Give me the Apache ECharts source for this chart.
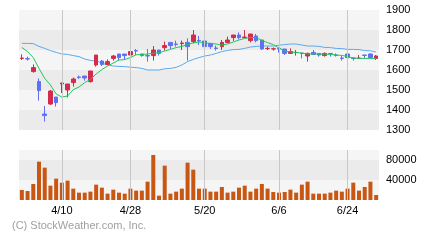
<!DOCTYPE html>
<html><head><meta charset="utf-8">
<script src="https://cdn.jsdelivr.net/npm/echarts@6/dist/echarts.min.js"></script>
<style>html,body{margin:0;padding:0;background:#fff}#c{width:440px;height:240px}</style>
</head><body><div id="c"></div>
<script>
const dates = ['4/1','4/2','4/3','4/4','4/7','4/8','4/9','4/10','4/11','4/14','4/15','4/16','4/17','4/18','4/21','4/22','4/23','4/24','4/25','4/28',
'4/30','5/1','5/2','5/7','5/8','5/9','5/12','5/13','5/14','5/15','5/16','5/19','5/20','5/21','5/22','5/23','5/26','5/27','5/28','5/29','5/30',
'6/2','6/3','6/4','6/5','6/6','6/9','6/10','6/11','6/12','6/13','6/16','6/17','6/18','6/19','6/20','6/23','6/24','6/25','6/26','6/27','6/30','7/1'];
const tickLabels = ['4/10','4/28','5/20','6/6','6/24'];
const opens  = [1658,1657,1592,1542,1380,1430,1465,1530,1500,1537,1565,1570,1542,1625,1645,1628,1658,1680,1680,1675,1697,1680,1672,1672,1700,1712,1738,1730,1732,1738,1742,1748,1745,1733,1710,1717,1738,1762,1775,1762,1747,1770,1750,1707,1705,1708,1705,1683,1687,1685,1670,1688,1683,1672,1683,1675,1660,1680,1660,1658,1675,1680,1658];
const closes = [1660,1655,1612,1497,1372,1495,1437,1535,1530,1555,1563,1560,1595,1675,1628,1642,1670,1662,1672,1692,1695,1672,1670,1700,1683,1722,1722,1728,1735,1717,1775,1745,1717,1717,1708,1738,1750,1775,1762,1765,1780,1747,1705,1708,1706,1705,1683,1692,1688,1683,1683,1678,1675,1683,1682,1673,1658,1662,1658,1660,1673,1662,1670];
const lows   = [1650,1647,1587,1447,1342,1425,1417,1485,1463,1517,1555,1547,1537,1617,1620,1625,1647,1647,1650,1655,1675,1667,1642,1647,1672,1697,1705,1717,1700,1647,1733,1725,1712,1705,1697,1700,1733,1745,1753,1758,1738,1738,1700,1700,1697,1687,1675,1680,1672,1658,1642,1675,1667,1667,1667,1667,1647,1662,1647,1658,1658,1658,1650];
const highs  = [1678,1667,1628,1558,1420,1500,1465,1537,1530,1562,1572,1570,1595,1675,1650,1653,1675,1680,1680,1692,1705,1680,1705,1720,1700,1742,1738,1747,1747,1758,1800,1770,1753,1733,1722,1750,1767,1775,1788,1800,1780,1780,1750,1717,1713,1710,1705,1708,1700,1685,1687,1700,1683,1688,1683,1683,1670,1680,1662,1675,1675,1683,1675];
const ma5  = [1713,1692,1662,1608,1558,1525,1480,1465,1470,1502,1515,1537,1553,1580,1602,1620,1635,1650,1652,1662,1676,1678,1680,1684,1686,1695,1703,1712,1718,1727,1736,1740,1736,1733,1730,1725,1730,1740,1750,1758,1762,1762,1748,1737,1727,1710,1695,1690,1688,1684,1680,1680,1680,1679,1678,1675,1673,1667,1660,1658,1658,1658,1658];
const ma25 = [1733,1733,1732,1718,1708,1697,1688,1680,1678,1672,1667,1655,1648,1645,1635,1625,1620,1618,1617,1614,1612,1608,1600,1600,1600,1606,1608,1613,1625,1642,1653,1662,1670,1675,1683,1692,1698,1702,1703,1708,1715,1718,1720,1720,1720,1724,1727,1730,1730,1725,1720,1720,1718,1713,1712,1708,1707,1703,1703,1702,1697,1696,1690];
const volumes = [20000,18000,32000,76700,64700,28700,42700,34700,38700,22700,14700,14700,16700,30700,24700,12700,20700,14700,12700,22700,18700,18700,36700,90000,8700,68700,12700,16700,22700,74700,60700,22700,22700,16700,16700,26000,14700,16700,24700,28700,16700,22700,32000,22700,16000,14700,16000,20700,14700,30700,36700,12700,12700,12700,14700,18700,16700,22700,34700,18700,26000,36700,10000];
const priceTicks = [1300,1400,1500,1600,1700,1800,1900];
const volTicks = [40000,80000];

const candleData = dates.map((d,i)=>[opens[i],closes[i],lows[i],highs[i]]);
const gridLineData = tickLabels.map(t=>({xAxis:t}));
const mlStyle = {silent:true,symbol:['none','none'],label:{show:false},lineStyle:{color:'#c8c8c8',width:1,type:'solid'},emphasis:{disabled:true},data:gridLineData,animation:false};
const labelSet = new Set(tickLabels);
const FONT = 'Liberation Sans, Arial, sans-serif';

const chart = echarts.init(document.getElementById('c'),null,{renderer:'canvas'});
chart.setOption({
  animation:false,
  backgroundColor:'#fff',
  grid:[{left:19,top:10,width:360,height:120},{left:19,top:150,width:360,height:50}],
  xAxis:[
    {type:'category',gridIndex:0,data:dates,boundaryGap:true,axisLine:{show:false},axisTick:{show:false},axisLabel:{show:false},splitLine:{show:false}},
    {type:'category',gridIndex:1,data:dates,boundaryGap:true,axisLine:{show:false},axisTick:{show:false},
     axisLabel:{show:true,interval:(i,v)=>labelSet.has(v),color:'#000',fontSize:11,fontFamily:FONT,margin:5},splitLine:{show:false}}
  ],
  yAxis:[
    {type:'value',gridIndex:0,position:'right',min:priceTicks[0],max:priceTicks[priceTicks.length-1],interval:100,
     axisLine:{show:false},axisTick:{show:false},splitLine:{show:false},
     splitArea:{show:true,areaStyle:{color:['#ebebeb','#f5f5f5']}},
     axisLabel:{color:'#000',fontSize:11,fontFamily:FONT,margin:7,formatter:v=>String(v)}},
    {type:'value',gridIndex:1,position:'right',min:0,max:100000,interval:40000,
     axisLine:{show:false},axisTick:{show:false},splitLine:{show:false},
     splitArea:{show:true,areaStyle:{color:['#f5f5f5','#ebebeb']}},
     axisLabel:{color:'#000',fontSize:11,fontFamily:FONT,margin:7,
       formatter:v=>volTicks.includes(v)?String(v):''}}
  ],
  series:[
    {type:'candlestick',xAxisIndex:0,yAxisIndex:0,data:candleData,barWidth:4,
     itemStyle:{color:'#d42a4c',color0:'#6070f2',borderColor:'#d42a4c',borderColor0:'#6070f2',borderWidth:1},
     markLine:mlStyle,z:3},
    {type:'line',xAxisIndex:0,yAxisIndex:0,data:ma25,symbol:'none',lineStyle:{color:'#5aaaf0',width:1},z:2},
    {type:'line',xAxisIndex:0,yAxisIndex:0,data:ma5,symbol:'none',lineStyle:{color:'#1ec85a',width:1},z:4},
    {type:'bar',xAxisIndex:1,yAxisIndex:1,data:volumes,barWidth:4,itemStyle:{color:'#c85714'},markLine:mlStyle}
  ],
  graphic:[{type:'text',left:12,top:220,style:{text:'(C) StockWeather.com, Inc.',fill:'#a0a0a0',font:'11px "Liberation Sans", Arial, sans-serif'}}]
});
</script></body></html>
